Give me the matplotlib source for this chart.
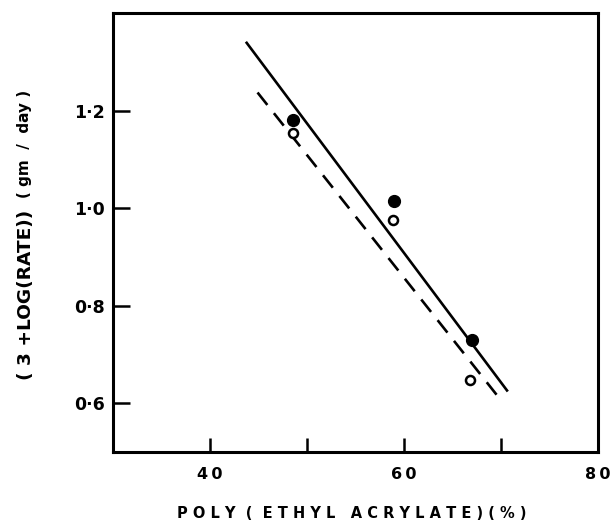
import matplotlib
matplotlib.use("Agg")
import matplotlib.pyplot as plt

# Measured points: filled and open series
x_filled = [48.6, 59.0, 67.0]
y_filled = [1.180, 1.014, 0.730]
x_open = [48.6, 58.9, 66.8]
y_open = [1.155, 0.975, 0.647]

# Fitted lines (end points)
solid_x = [43.7, 70.7]
solid_y = [1.341, 0.624]
dashed_x = [44.9, 69.6]
dashed_y = [1.237, 0.616]

x_ticks = [40, 50, 60, 70, 80]
x_ticklabels = ["4\u20090", "", "6\u20090", "", "8\u20090"]
y_ticks = [0.6, 0.8, 1.0, 1.2]
y_ticklabels = ["0·6", "0·8", "1·0", "1·2"]

plt.rcParams["font.family"] = ["DejaVu Sans"]
plt.rcParams["font.weight"] = "bold"

W, H = 614, 526
fig = plt.figure(figsize=(W / 100, H / 100), dpi=100)
ax = fig.add_axes([113 / W, 1 - 452 / H, (598 - 113) / W, (452 - 13) / H])

ax.plot(solid_x, solid_y, color="black", lw=1.9, solid_capstyle="butt")
ax.plot(dashed_x, dashed_y, color="black", lw=1.9, dashes=(6, 4))
ax.plot(x_filled, y_filled, "o", color="black", ms=8.5, zorder=3)
ax.plot(x_open, y_open, "o", mfc="white", mec="black", ms=6.5, mew=1.8, zorder=3)

ax.set_xlim(30, 80)
ax.set_ylim(0.5, 1.4)

ax.set_xticks(x_ticks)
ax.set_xticklabels(x_ticklabels, fontsize=11.5, fontweight="bold")
ax.set_yticks(y_ticks)
ax.set_yticklabels(y_ticklabels, fontsize=12.5, fontweight="bold")

ax.tick_params(axis="x", direction="in", length=10, width=1.8, pad=11)
ax.tick_params(axis="y", direction="in", length=12, width=1.8, pad=6)
for s in ax.spines.values():
    s.set_linewidth(2.2)

fig.text(352 / W, 1 - 513 / H, "P O L Y  (  E T H Y L   A C R Y L A T E ) ( % )",
         ha="center", va="center", fontsize=10.5, fontweight="bold")

fig.text(26 / W, 1 - 380 / H, "( 3 +LOG(RATE))", rotation=90,
         ha="center", va="bottom", fontsize=13.3, fontweight="bold")
fig.text(25 / W, 1 - 198 / H, "( gm  /  day )", rotation=90,
         ha="center", va="bottom", fontsize=11, fontweight="bold")

fig.savefig("out.png", dpi=100)
